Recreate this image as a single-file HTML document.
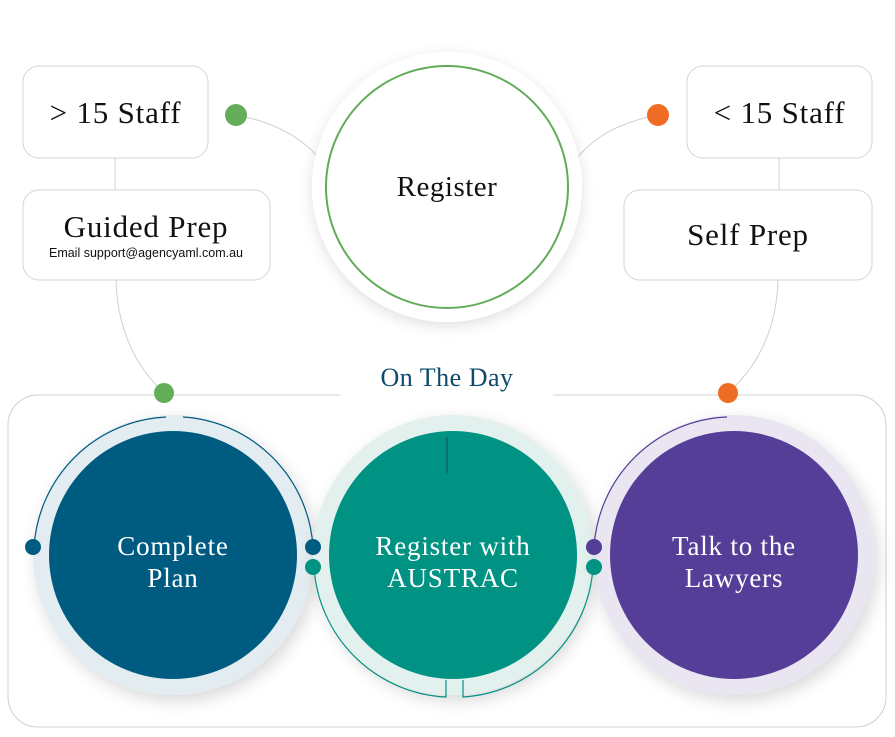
<!DOCTYPE html>
<html><head><style>
body{margin:0;background:#fff;}
svg{display:block;}
.s{font-family:"Liberation Serif",serif;}
</style></head><body>
<svg width="895" height="737" viewBox="0 0 895 737" xmlns="http://www.w3.org/2000/svg">
<defs>
<filter id="sh" x="-30%" y="-30%" width="160%" height="160%"><feDropShadow dx="0" dy="4" stdDeviation="7" flood-color="#000" flood-opacity="0.12"/></filter>
<filter id="sh2" x="-30%" y="-30%" width="160%" height="160%"><feDropShadow dx="4" dy="6" stdDeviation="8" flood-color="#000" flood-opacity="0.15"/></filter>
</defs>
<rect width="895" height="737" fill="#fff"/>
<path d="M340 395 H38 A30 30 0 0 0 8 425 V697 A30 30 0 0 0 38 727 H856 A30 30 0 0 0 886 697 V425 A30 30 0 0 0 856 395 H553" fill="none" stroke="#d0d0d0" stroke-width="1"/>
<text x="447" y="386" class="s" font-size="26" fill="#0f4a6a" text-anchor="middle" letter-spacing="0.5">On The Day</text>

<line x1="115" y1="158" x2="115" y2="190" stroke="#d0d0d0"/>
<line x1="779" y1="158" x2="779" y2="190" stroke="#d0d0d0"/>
<path d="M116 280 Q118 350 164 393" fill="none" stroke="#d0d0d0"/>
<path d="M778 280 Q776 350 728 393" fill="none" stroke="#d0d0d0"/>
<path d="M236 115 Q290 125 318 157" fill="none" stroke="#d0d0d0"/>
<path d="M658 115 Q604 125 578 157" fill="none" stroke="#d0d0d0"/>

<rect x="23" y="66" width="185" height="92" rx="16" fill="#fff" stroke="#d4d4d4"/>
<text x="115.5" y="123" class="s" font-size="31" text-anchor="middle" fill="#111" letter-spacing="0.8">&gt; 15 Staff</text>
<rect x="23" y="190" width="247" height="90" rx="16" fill="#fff" stroke="#d4d4d4"/>
<text x="146" y="237" class="s" font-size="31" text-anchor="middle" fill="#111" letter-spacing="0.8">Guided Prep</text>
<text x="146" y="257" font-family="Liberation Sans,sans-serif" font-size="12.5" text-anchor="middle" fill="#111">Email support@agencyaml.com.au</text>
<rect x="687" y="66" width="185" height="92" rx="16" fill="#fff" stroke="#d4d4d4"/>
<text x="779.5" y="123" class="s" font-size="31" text-anchor="middle" fill="#111" letter-spacing="0.8">&lt; 15 Staff</text>
<rect x="624" y="190" width="248" height="90" rx="16" fill="#fff" stroke="#d4d4d4"/>
<text x="748" y="245" class="s" font-size="31" text-anchor="middle" fill="#111" letter-spacing="0.8">Self Prep</text>

<circle cx="447" cy="187" r="135" fill="#fff" filter="url(#sh)"/>
<circle cx="447" cy="187" r="121" fill="#fff" stroke="#62ac59" stroke-width="2"/>
<text x="447" y="196" class="s" font-size="29" text-anchor="middle" fill="#111" letter-spacing="0.5">Register</text>

<circle cx="236" cy="115" r="11" fill="#64ae5a"/>
<circle cx="658" cy="115" r="11" fill="#ee6c24"/>
<circle cx="164" cy="393" r="10" fill="#64ae5a"/>
<circle cx="728" cy="393" r="10" fill="#ee6c24"/>

<circle cx="173" cy="555" r="140" fill="#e3ecf0" filter="url(#sh2)"/>
<circle cx="453" cy="555" r="140" fill="#e2f0ee" filter="url(#sh2)"/>
<circle cx="734" cy="555" r="140" fill="#e9e5f1" filter="url(#sh2)"/>
<circle cx="173" cy="555" r="124" fill="#005b80"/>
<circle cx="453" cy="555" r="124" fill="#009282"/>
<circle cx="734" cy="555" r="124" fill="#543e98"/>
<line x1="447" y1="437" x2="447" y2="473" stroke="#0f4a6a" stroke-width="1"/>

<path d="M166 417 A139 139 0 0 0 34 547" fill="none" stroke="#005b80" stroke-width="1.2"/>
<path d="M183 417 A139 139 0 0 1 313 547" fill="none" stroke="#005b80" stroke-width="1.2"/>
<path d="M314 567 A139 139 0 0 0 446 697 V680" fill="none" stroke="#009282" stroke-width="1.2"/>
<path d="M463 680 V697 A139 139 0 0 0 593 567" fill="none" stroke="#009282" stroke-width="1.2"/>
<path d="M594 547 A139 139 0 0 1 727 417" fill="none" stroke="#543e98" stroke-width="1.2"/>

<circle cx="33" cy="547" r="8" fill="#005b80"/>
<circle cx="313" cy="547" r="8" fill="#005b80"/>
<circle cx="313" cy="567" r="8" fill="#009282"/>
<circle cx="594" cy="547" r="8" fill="#543e98"/>
<circle cx="594" cy="567" r="8" fill="#009282"/>

<g class="s" font-size="27" fill="#fff" text-anchor="middle" letter-spacing="0.8">
<text x="173" y="555">Complete</text><text x="173" y="587">Plan</text>
<text x="453" y="555">Register with</text><text x="453" y="587">AUSTRAC</text>
<text x="734" y="555">Talk to the</text><text x="734" y="587">Lawyers</text>
</g>
</svg>
</body></html>
